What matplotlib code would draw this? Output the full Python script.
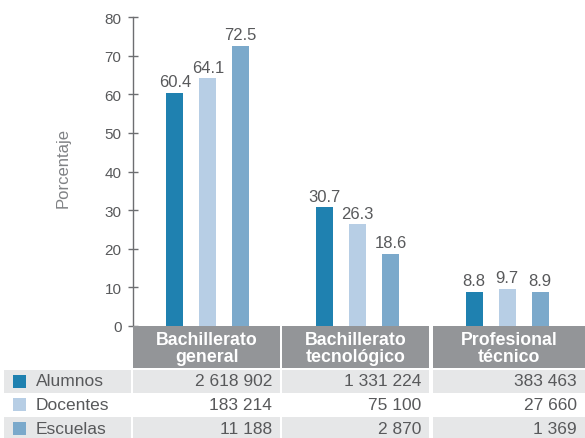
import matplotlib.pyplot as plt
import numpy as np
from matplotlib.patches import Rectangle

plt.rcParams['font.family'] = ['Liberation Sans', 'DejaVu Sans']

# datos
niveles = ['Bachillerato\ngeneral', 'Bachillerato\ntecnológico', 'Profesional\ntécnico']
series = ['Alumnos', 'Docentes', 'Escuelas']
porc_alumnos = [60.4, 30.7, 8.8]
porc_docentes = [64.1, 26.3, 9.7]
porc_escuelas = [72.5, 18.6, 8.9]
tot_alumnos = ['2 618 902', '1 331 224', '383 463']
tot_docentes = ['183 214', '75 100', '27 660']
tot_escuelas = ['11 188', '2 870', '1 369']
yticks = [0, 10, 20, 30, 40, 50, 60, 70, 80]

colores = ['#1f81b0', '#b7cee5', '#7ba9cb']
gris_txt = '#58595b'
gris_head = '#939598'
gris_fila = '#e6e7e8'

W, H = 585, 439
fig = plt.figure(figsize=(W / 100, H / 100), dpi=100)

# ejes de barras (en pixeles: x 133-582, y 18-327)
ax = fig.add_axes([133 / W, 1 - 327 / H, 449 / W, 309 / H])
ax.patch.set_alpha(0)

x = np.arange(len(niveles)) + 0.5
ancho = 0.113
sep = 0.22
valores = [porc_alumnos, porc_docentes, porc_escuelas]
for i, vals in enumerate(valores):
    pos = x + (i - 1) * sep
    barras = ax.bar(pos, vals, width=ancho, color=colores[i], zorder=2)
    for b, v in zip(barras, vals):
        ax.text(b.get_x() + b.get_width() / 2, v + 1.0, f'{v:.1f}',
                ha='center', va='bottom', fontsize=12, color=gris_txt)

ax.set_xlim(0, 3)
ax.set_ylim(0, 80)
ax.set_yticks(yticks)
ax.set_xticks([])
for s in ['top', 'right', 'bottom']:
    ax.spines[s].set_visible(False)
ax.spines['left'].set_color('#6d6e71')
ax.spines['left'].set_linewidth(1.0)
ax.tick_params(axis='y', direction='inout', length=6.5, width=1.0,
               color='#6d6e71', labelcolor=gris_txt, labelsize=11, pad=5)
ax.set_ylabel('Porcentaje', fontsize=12, color='#808285')
ax.yaxis.set_label_coords(-0.14, 0.516)

# tabla debajo (ejes en pixeles)
tb = fig.add_axes([0, 0, 1, 1])
tb.set_xlim(0, W)
tb.set_ylim(H, 0)
tb.axis('off')

col_izq = [133, 282, 433]
col_der = [280, 429, 585]

# encabezado
for i, nombre in enumerate(niveles):
    tb.add_patch(Rectangle((col_izq[i], 327), col_der[i] - col_izq[i], 42,
                           facecolor=gris_head, edgecolor='none'))
    tb.text((col_izq[i] + col_der[i]) / 2, 349, nombre, ha='center', va='center',
            fontsize=12.8, fontweight='bold', color='white', linespacing=0.95)

# filas
totales = [tot_alumnos, tot_docentes, tot_escuelas]
fila_y = [382, 406, 430]
fondos = [gris_fila, 'white', gris_fila]
for j, nombre in enumerate(series):
    yc = fila_y[j]
    if fondos[j] != 'white':
        tb.add_patch(Rectangle((4, yc - 11.5), 127, 23, facecolor=fondos[j], edgecolor='none'))
        for i in range(3):
            tb.add_patch(Rectangle((col_izq[i], yc - 11.5), col_der[i] - col_izq[i], 23,
                                   facecolor=fondos[j], edgecolor='none'))
    tb.add_patch(Rectangle((13, yc - 6.5), 13, 13, facecolor=colores[j], edgecolor='none'))
    tb.text(36, yc, nombre, ha='left', va='center', fontsize=12.5, color=gris_txt)
    for i in range(3):
        tb.text(col_der[i] - 8, yc, totales[j][i], ha='right', va='center',
                fontsize=12.5, color=gris_txt)

fig.savefig('out.png', dpi=100)
